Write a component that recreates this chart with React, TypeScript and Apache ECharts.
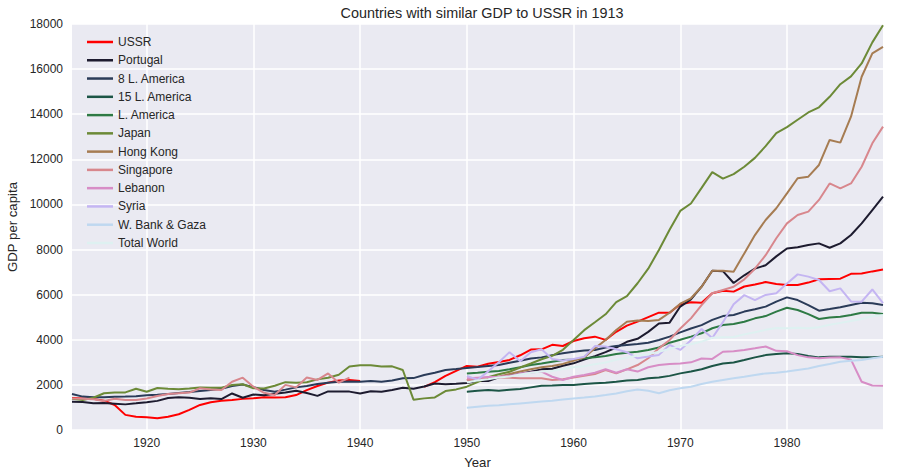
import React, { useEffect, useRef } from "react";
import * as echarts from "echarts";

const FIRST_YEAR = 1913;
const LAST_YEAR = 1989;
const years: string[] = [];
for (let y = FIRST_YEAR; y <= LAST_YEAR; y++) years.push(String(y));

// 1913-1989 (nulls for 1941-1945)
const ussr = [
  1420, 1400, 1380, 1300, 1110, 670, 590, 560, 520, 590,
  700, 890, 1110, 1230, 1300, 1330, 1380, 1410, 1450, 1440,
  1450, 1550, 1770, 1950, 2100, 2190, 2220, 2170, null, null,
  null, null, null, 1913, 2126, 2402, 2623, 2841, 2805, 2937,
  3013, 3106, 3313, 3566, 3576, 3777, 3724, 3945, 4071, 4139,
  3995, 4353, 4626, 4806, 5005, 5202, 5198, 5575, 5667, 5643,
  6059, 6176, 6135, 6363, 6454, 6559, 6472, 6427, 6432, 6535,
  6684, 6696, 6708, 6924, 6943, 7032, 7112,
];

// 1913-1989
const portugal = [
  1250, 1244, 1185, 1198, 1167, 1136, 1181, 1229, 1291, 1417,
  1452, 1434, 1374, 1403, 1373, 1620, 1429, 1571, 1538, 1605,
  1666, 1739, 1642, 1514, 1711, 1707, 1702, 1615, 1721, 1699,
  1776, 1875, 1828, 1928, 2064, 2032, 2048, 2086, 2175, 2171,
  2335, 2403, 2494, 2583, 2688, 2717, 2847, 2956, 3124, 3275,
  3452, 3658, 3909, 4043, 4349, 4720, 4760, 5473, 5790, 6354,
  7063, 7043, 6517, 6859, 7153, 7304, 7697, 8044, 8101, 8200,
  8274, 8082, 8274, 8644, 9161, 9752, 10343,
];

// 1913-1989
const latAm8 = [
  1600, 1480, 1450, 1450, 1470, 1480, 1500, 1540, 1560, 1600,
  1640, 1680, 1730, 1770, 1830, 1950, 2020, 1900, 1770, 1700,
  1790, 1890, 1950, 2040, 2100, 2140, 2150, 2140, 2170, 2140,
  2190, 2290, 2300, 2440, 2540, 2660, 2700, 2750, 2790, 2840,
  2880, 2980, 3070, 3170, 3220, 3320, 3400, 3470, 3520, 3550,
  3660, 3720, 3770, 3810, 3870, 3990, 4140, 4330, 4500, 4650,
  4880, 5050, 5100, 5250, 5350, 5470, 5690, 5880, 5760, 5540,
  5290, 5360, 5440, 5540, 5640, 5620, 5540,
];

// 1950-1989
const latAm15 = [
  1700, 1740, 1770, 1740, 1780, 1820, 1890, 1960, 1970, 2000,
  2000, 2040, 2070, 2100, 2140, 2190, 2220, 2290, 2330, 2400,
  2510, 2590, 2690, 2840, 2950, 2990, 3100, 3220, 3320, 3370,
  3400, 3370, 3280, 3220, 3250, 3250, 3250, 3230, 3230, 3250,
];

// 1950-1989
const latAm = [
  2510, 2540, 2580, 2620, 2690, 2780, 2880, 2950, 3030, 3100,
  3130, 3180, 3220, 3280, 3370, 3430, 3470, 3550, 3660, 3870,
  4000, 4140, 4290, 4510, 4650, 4700, 4800, 4950, 5050, 5250,
  5420, 5320, 5140, 4920, 4990, 5020, 5100, 5200, 5200, 5140,
];

// 1913-1989
const japan = [
  1387, 1327, 1430, 1630, 1665, 1668, 1827, 1696, 1860, 1831,
  1809, 1836, 1885, 1872, 1870, 1991, 2026, 1850, 1837, 1962,
  2122, 2098, 2120, 2244, 2315, 2449, 2816, 2874, 2873, 2818,
  2822, 2659, 1346, 1402, 1444, 1725, 1800, 1921, 2126, 2336,
  2474, 2582, 2771, 2948, 3136, 3289, 3554, 3986, 4426, 4777,
  5129, 5668, 5934, 6506, 7152, 7983, 8874, 9714, 10040, 10734,
  11434, 11145, 11344, 11669, 12064, 12585, 13163, 13428, 13754, 14078,
  14307, 14773, 15331, 15679, 16251, 17185, 17943,
];

// 1950-1989
const hongKong = [
  2220, 2250, 2290, 2360, 2480, 2590, 2690, 2780, 2840, 2930,
  3070, 3220, 3620, 3990, 4430, 4800, 4850, 4830, 4880, 5200,
  5600, 5840, 6350, 7060, 7060, 7020, 7830, 8640, 9310, 9830,
  10490, 11160, 11230, 11750, 12860, 12740, 13890, 15660, 16700, 16990,
];

// 1913-1939
const singaporeEarly = [
  1400, 1390, 1360, 1290, 1390, 1330, 1330, 1400, 1510, 1600,
  1630, 1660, 1850, 1800, 1770, 2140, 2320, 1920, 1650, 1550,
  2000, 1890, 2330, 2220, 2510, 2100, 2320,
];
// 1950-1989
const singaporeLate = [
  2220, 2280, 2330, 2330, 2320, 2290, 2290, 2290, 2220, 2250,
  2330, 2400, 2480, 2660, 2510, 2690, 2880, 3180, 3620, 3990,
  4500, 4950, 5540, 6060, 6210, 6350, 6680, 7150, 7750, 8500,
  9160, 9530, 9680, 10200, 10930, 10710, 10930, 11670, 12710, 13450,
];

// 1950-1989
const lebanon = [
  2290, 2320, 2350, 2360, 2400, 2500, 2550, 2590, 2360, 2220,
  2360, 2440, 2540, 2690, 2540, 2690, 2590, 2780, 2880, 2930,
  2950, 3000, 3170, 3150, 3470, 3490, 3550, 3620, 3700, 3510,
  3490, 3320, 3220, 3180, 3210, 3220, 3120, 2140, 1970, 1965,
];

// 1950-1989
const syria = [
  2400, 2230, 2600, 3000, 3450, 3050, 3450, 3580, 3150, 3080,
  3150, 3250, 3720, 3700, 3580, 3450, 3180, 3260, 3330, 3770,
  3550, 3980, 4480, 4080, 4780, 5580, 5980, 5760, 5990, 6060,
  6500, 6900, 6800, 6650, 6150, 6280, 5700, 5690, 6230, 5620,
];

// 1950-1989
const wBankGaza = [
  990, 1030, 1070, 1100, 1140, 1180, 1220, 1260, 1300, 1350,
  1400, 1440, 1490, 1550, 1620, 1720, 1800, 1740, 1630, 1760,
  1850, 1920, 2040, 2140, 2220, 2290, 2360, 2440, 2510, 2540,
  2590, 2660, 2730, 2840, 2930, 3030, 3070, 3100, 3180, 3250,
];

// 1950-1989
const totalWorld = [
  2110, 2190, 2250, 2330, 2370, 2460, 2540, 2590, 2620, 2700,
  2780, 2830, 2920, 2990, 3110, 3200, 3300, 3360, 3470, 3590,
  3730, 3800, 3920, 4090, 4110, 4120, 4240, 4330, 4440, 4520,
  4510, 4530, 4510, 4560, 4670, 4750, 4830, 4920, 5040, 5100,
];

const yTicks = [0, 2000, 4000, 6000, 8000, 10000, 12000, 14000, 16000, 18000];

function from1950(arr: number[]): (number | null)[] {
  const pad: null[] = [];
  for (let y = FIRST_YEAR; y < 1950; y++) pad.push(null);
  return [...pad, ...arr];
}

function singaporeFull(): (number | null)[] {
  const gap: null[] = [];
  for (let y = 1940; y < 1950; y++) gap.push(null);
  return [...singaporeEarly, ...gap, ...singaporeLate];
}

const seriesDefs: { name: string; color: string; data: (number | null)[] }[] = [
  { name: "USSR", color: "#ff0000", data: ussr },
  { name: "Portugal", color: "#1d1b2f", data: portugal },
  { name: "8 L. America", color: "#2a3b58", data: latAm8 },
  { name: "15 L. America", color: "#1c5546", data: from1950(latAm15) },
  { name: "L. America", color: "#2e7a45", data: from1950(latAm) },
  { name: "Japan", color: "#6c8a37", data: japan },
  { name: "Hong Kong", color: "#a67c52", data: from1950(hongKong) },
  { name: "Singapore", color: "#d8878d", data: singaporeFull() },
  { name: "Lebanon", color: "#d78dc6", data: from1950(lebanon) },
  { name: "Syria", color: "#c4b5f2", data: from1950(syria) },
  { name: "W. Bank & Gaza", color: "#bfd8f0", data: from1950(wBankGaza) },
  { name: "Total World", color: "#def1f1", data: from1950(totalWorld) },
];

const FONT = "'Liberation Sans', Arial, sans-serif";
const TEXT = "#262626";
const isDecade = (_i: number, v: string) => Number(v) % 10 === 0;

export default function App() {
  const ref = useRef<HTMLDivElement>(null);
  useEffect(() => {
    if (!ref.current) return;
    const chart = echarts.init(ref.current, undefined, { renderer: "svg" });
    chart.setOption({
      animation: false,
      backgroundColor: "#ffffff",
      textStyle: { fontFamily: FONT, color: TEXT },
      title: {
        text: "Countries with similar GDP to USSR in 1913",
        left: 477,
        top: 1,
        textAlign: "center",
        textStyle: { fontSize: 14.4, fontWeight: "normal", color: TEXT, fontFamily: FONT },
      },
      legend: {
        orient: "vertical",
        left: 82,
        top: 31,
        icon: "rect",
        itemWidth: 26,
        itemHeight: 2.5,
        itemGap: 6.27,
        textStyle: { fontSize: 12, lineHeight: 12, color: TEXT, fontFamily: FONT },
        data: seriesDefs.map((s) => s.name),
      },
      grid: {
        left: 72,
        top: 24,
        right: 28,
        bottom: 44,
        show: true,
        backgroundColor: "#eaeaf2",
        borderWidth: 0,
        containLabel: false,
        outerBoundsMode: "none",
      },
      xAxis: {
        type: "category",
        data: years,
        boundaryGap: false,
        name: "Year",
        nameLocation: "middle",
        nameGap: 26,
        nameTextStyle: { fontSize: 13.2, color: TEXT, fontFamily: FONT },
        axisLine: { show: false },
        axisTick: { show: false },
        axisLabel: {
          interval: isDecade,
          fontSize: 12,
          color: TEXT,
          margin: 7,
          fontFamily: FONT,
        },
        splitLine: {
          show: true,
          interval: isDecade,
          lineStyle: { color: "#ffffff", width: 1.5 },
        },
      },
      yAxis: {
        type: "value",
        min: yTicks[0],
        max: yTicks[yTicks.length - 1],
        interval: yTicks[1] - yTicks[0],
        name: "GDP per capita",
        nameLocation: "middle",
        nameGap: 46,
        nameTextStyle: { fontSize: 13.2, color: TEXT, fontFamily: FONT },
        axisLine: { show: false },
        axisTick: { show: false },
        axisLabel: {
          fontSize: 12,
          color: TEXT,
          margin: 9,
          fontFamily: FONT,
          formatter: (v: number) => String(v),
        },
        splitLine: { show: true, lineStyle: { color: "#ffffff", width: 1.5 } },
      },
      series: seriesDefs.map((s) => ({
        name: s.name,
        type: "line",
        data: s.data,
        symbol: "none",
        showSymbol: false,
        connectNulls: false,
        color: s.color,
        itemStyle: { color: s.color },
        lineStyle: { color: s.color, width: 2 },
        emphasis: { disabled: true },
      })),
    });
    return () => chart.dispose();
  }, []);
  return (
    <div
      ref={ref}
      style={{ position: "fixed", left: 0, top: 0, width: 911, height: 474 }}
    />
  );
}
